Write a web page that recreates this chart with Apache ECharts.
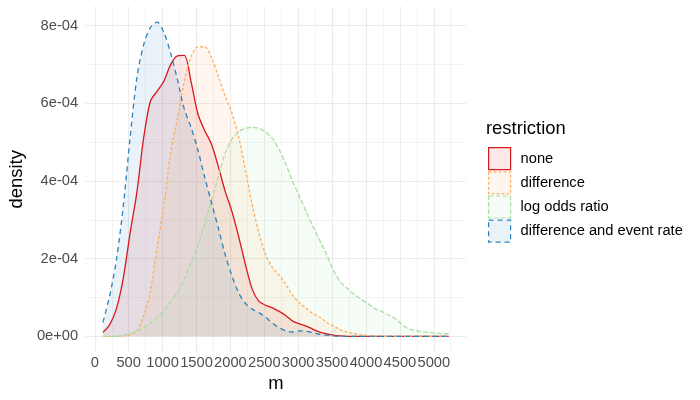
<!DOCTYPE html>
<html>
    <head>
        <meta charset="utf-8">
        <title>density by restriction</title>
        <script src="https://cdn.jsdelivr.net/npm/echarts@6/dist/echarts.min.js"></script>
    </head>
    <body style="margin:0">
        <div id="main" style="width:700px;height:400px;"></div>
        <script type="text/javascript">
            // sample positions along m
            var mValues = [120, 220, 320, 420, 520, 620, 720, 820, 920, 1020,
                1120, 1220, 1320, 1420, 1520, 1620, 1720, 1820, 1920, 2020,
                2120, 2220, 2320, 2420, 2520, 2620, 2720, 2820, 2920, 3020,
                3120, 3220, 3320, 3420, 3520, 3620, 3720, 3820, 3920, 4020,
                4120, 4220, 4320, 4420, 4520, 4620, 4720, 4820, 4920, 5020,
                5120, 5220];

            // densities, in units of 1e-4
            var densNone = [0.10, 0.30, 0.72, 1.5, 2.65, 3.7, 5.1, 6.05, 6.31, 6.57,
                7.0, 7.22, 7.23, 6.55, 5.73, 5.3, 4.95, 4.38, 3.75, 3.23,
                2.58, 1.86, 1.22, 0.9, 0.8, 0.73, 0.64, 0.53, 0.39, 0.32,
                0.26, 0.18, 0.11, 0.06, 0.03, 0.01, 0, 0, 0, 0,
                0, 0, 0, 0, 0, 0, 0, 0, 0, 0,
                0, 0];
            var densDifference = [0, 0, 0, 0.01, 0.04, 0.14, 0.52, 1.17, 2.3, 3.4,
                4.75, 5.62, 6.56, 7.2, 7.45, 7.45, 7.18, 6.7, 6.2, 5.76,
                5.15, 4.3, 3.4, 2.67, 2.1, 1.77, 1.57, 1.33, 1.05, 0.86,
                0.72, 0.58, 0.49, 0.36, 0.27, 0.17, 0.11, 0.07, 0.04, 0.02,
                0.01, 0, 0, 0, 0, 0, 0, 0, 0, 0,
                0, 0];
            var densLogOdds = [0, 0, 0, 0.02, 0.07, 0.14, 0.22, 0.35, 0.5, 0.66,
                0.9, 1.13, 1.48, 1.9, 2.33, 2.9, 3.5, 4.1, 4.7, 5.07,
                5.27, 5.35, 5.38, 5.35, 5.26, 5.09, 4.8, 4.42, 3.98, 3.6,
                3.2, 2.82, 2.46, 2.1, 1.7, 1.4, 1.24, 1.09, 0.96, 0.85,
                0.72, 0.65, 0.56, 0.47, 0.32, 0.2, 0.15, 0.12, 0.1, 0.08,
                0.07, 0.06];
            var densDiffEvent = [0.36, 1.05, 1.98, 3.35, 5.1, 6.65, 7.5, 7.95, 8.09, 7.82,
                7.28, 6.6, 5.85, 5.38, 4.8, 4.1, 3.45, 2.8, 2.12, 1.57,
                1.12, 0.85, 0.70, 0.61, 0.49, 0.34, 0.22, 0.14, 0.11, 0.14,
                0.13, 0.09, 0.05, 0.03, 0.01, 0, 0, 0, 0, 0,
                0, 0, 0, 0, 0, 0, 0, 0, 0, 0,
                0, 0];

            var restrictions = ['none', 'difference', 'log odds ratio', 'difference and event rate'];
            var xTicks = [0, 500, 1000, 1500, 2000, 2500, 3000, 3500, 4000, 4500, 5000];
            var xMinor = [250, 750, 1250, 1750, 2250, 2750, 3250, 3750, 4250, 4750, 5250];
            var yTicks = [0, 0.0002, 0.0004, 0.0006, 0.0008];
            var yMinor = [0.0001, 0.0003, 0.0005, 0.0007];

            var lineColors = ['#d7191c', '#fdae61', '#abdda4', '#2b83ba'];
            var fillColors = ['rgba(215,25,28,0.1)', 'rgba(253,174,97,0.1)', 'rgba(171,221,164,0.1)', 'rgba(43,131,186,0.1)'];
            var dashes = ['solid', [3, 2], [5, 2], [5, 4]];

            // R style scientific labels: 2e-04
            function sci(v) {
                if (v === 0) return '0e+00';
                var e = Math.floor(Math.log10(Math.abs(v)) + 1e-9);
                var m = Math.round(v / Math.pow(10, e));
                return m + 'e' + (e < 0 ? '-' : '+') + String(Math.abs(e)).padStart(2, '0');
            }

            function pairs(dens) {
                return mValues.map(function (m, i) { return [m, dens[i] * 1e-4]; });
            }
            var allDens = [densNone, densDifference, densLogOdds, densDiffEvent];

            var font = 'Liberation Sans';
            var gridLine = '#ebebeb';
            var chart = echarts.init(document.getElementById('main'));
            var option = {
                animation: false,
                title: {
                    text: 'restriction',
                    left: 486, top: 119.5,
                    padding: 0,
                    textStyle: { fontSize: 18.4, fontWeight: 'normal', color: '#000', fontFamily: font }
                },
                legend: {
                    orient: 'vertical',
                    left: 488, top: 147,
                    padding: 0,
                    itemWidth: 22, itemHeight: 22, itemGap: 1,
                    icon: 'rect',
                    textStyle: { fontSize: 14.7, color: '#000', fontFamily: font, padding: [0, 0, 0, 5] },
                    data: restrictions.map(function (r, i) {
                        return {
                            name: r,
                            itemStyle: {
                                color: fillColors[i], borderColor: lineColors[i],
                                borderWidth: 1.2, borderType: dashes[i]
                            }
                        };
                    })
                },
                grid: { left: 76.6, right: 234, top: 6.5, bottom: 48 },
                xAxis: [{
                    type: 'value', min: -135, max: 5475,
                    name: 'm', nameLocation: 'middle', nameGap: 19.5,
                    nameTextStyle: { fontSize: 18.4, color: '#000', fontFamily: font },
                    axisLine: { show: false },
                    axisTick: { show: false, customValues: xTicks },
                    axisLabel: {
                        customValues: xTicks, fontSize: 14.7, color: '#4d4d4d', margin: 3, fontFamily: font,
                        formatter: function (v) { return String(v); }
                    },
                    splitLine: { show: true, lineStyle: { color: gridLine, width: 1.1 } }
                }, {
                    type: 'value', min: -135, max: 5475, gridIndex: 0, position: 'bottom',
                    axisLine: { show: false },
                    axisTick: { show: false, customValues: xMinor },
                    axisLabel: { show: false, customValues: xMinor },
                    splitLine: { show: true, lineStyle: { color: gridLine, width: 0.6 } }
                }],
                yAxis: [{
                    type: 'value', min: -0.00004045, max: 0.000849,
                    name: 'density', nameLocation: 'middle', nameGap: 56,
                    nameTextStyle: { fontSize: 18.4, color: '#000', fontFamily: font },
                    axisLine: { show: false },
                    axisTick: { show: false, customValues: yTicks },
                    axisLabel: { customValues: yTicks, formatter: sci, fontSize: 14.7, color: '#4d4d4d', margin: 7.5, fontFamily: font },
                    splitLine: { show: true, lineStyle: { color: gridLine, width: 1.1 } }
                }, {
                    type: 'value', min: -0.00004045, max: 0.000849, gridIndex: 0, position: 'left',
                    axisLine: { show: false },
                    axisTick: { show: false, customValues: yMinor },
                    axisLabel: { show: false, customValues: yMinor },
                    splitLine: { show: true, lineStyle: { color: gridLine, width: 0.6 } }
                }],
                series: restrictions.map(function (r, i) {
                    return {
                        name: r,
                        type: 'line',
                        data: pairs(allDens[i]),
                        showSymbol: false,
                        smooth: 0.3,
                        color: lineColors[i],
                        lineStyle: { color: lineColors[i], width: 1.3, type: dashes[i] },
                        areaStyle: { color: fillColors[i], opacity: 1 },
                        emphasis: { disabled: true },
                        silent: true
                    };
                })
            };
            chart.setOption(option);
        </script>
    </body>
</html>
